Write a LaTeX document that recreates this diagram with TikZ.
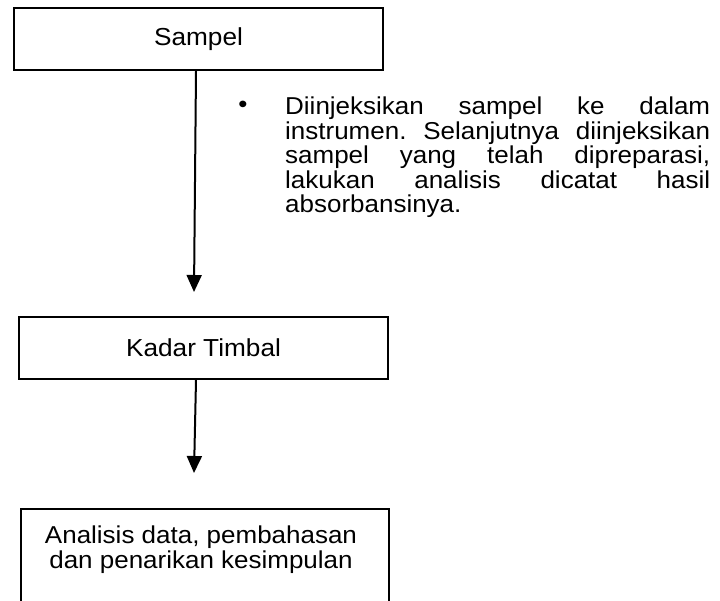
\documentclass[tikz,border=0pt]{standalone}
\usepackage{fontspec}
\setmainfont{Liberation Sans}[FakeStretch=1.065]
\usetikzlibrary{arrows.meta}
\begin{document}
\begin{tikzpicture}[x=1pt,y=-1pt,
  box/.style={draw=black,line width=2pt,minimum width=369pt,minimum height=62pt,inner sep=0pt,font=\fontsize{24.6}{24.5}\selectfont},
  arr/.style={line width=2pt,-{Triangle[length=17pt,width=15pt]}},
  txt/.style={font=\fontsize{24.4}{24.4}\selectfont,inner sep=0pt}]
\clip (0,0) rectangle (720,601);
\fill[white] (0,0) rectangle (720,601);
\node[box] (s) at (198.5,39) {Sampel};
\node[box] (k) at (203.5,348) {Kadar Timbal};
\node[box,minimum width=368pt,minimum height=150pt,anchor=north] (c) at (205,508) {};
\node[txt,align=center,anchor=base] (ct) at (201,568) {Analisis data, pembahasan\\[0.6pt]dan penarikan kesimpulan};
\coordinate (t1) at (194,292);
\coordinate (t2) at (194,473);
\draw[arr] (s.south -| 196,0) -- (t1);
\draw[arr] (k.south -| 196,0) -- (t2);
\node[txt] (b) at (243,107) {•};
\node[txt,text width=425pt,align=justify,anchor=base west] (p) at (285,115) {\frenchspacing\hyphenpenalty=10000\exhyphenpenalty=10000
Diinjeksikan sampel ke dalam\linebreak instrumen. Selanjutnya diinjeksikan\linebreak sampel yang telah dipreparasi,\linebreak lakukan analisis dicatat hasil\linebreak absorbansinya.};
\end{tikzpicture}
\end{document}
